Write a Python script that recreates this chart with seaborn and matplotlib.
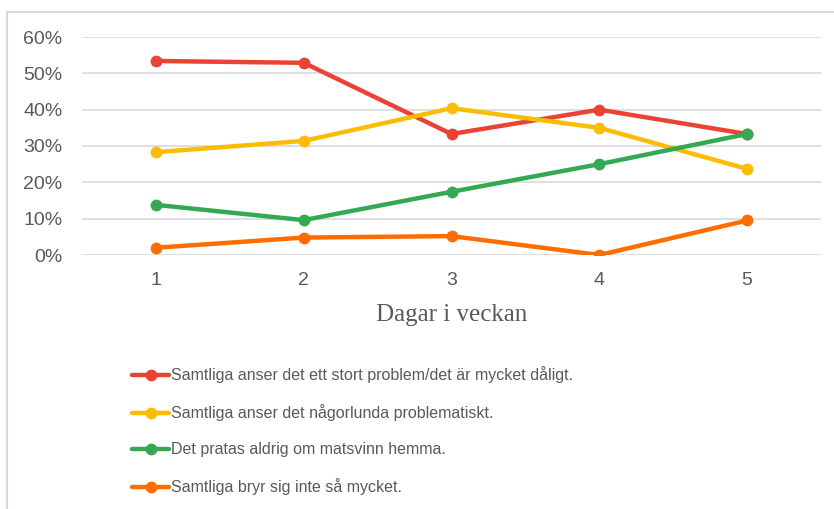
import pandas as pd
import matplotlib.pyplot as plt
import seaborn as sns
from matplotlib.patches import Rectangle
from matplotlib.ticker import PercentFormatter

# -------------------------------------------------
# Data
# -------------------------------------------------
days = [1, 2, 3, 4, 5]

stort_problem = [53.4, 52.9, 33.3, 40.0, 33.3]
nagorlunda = [28.3, 31.4, 40.4, 35.0, 23.7]
pratas_aldrig = [13.8, 9.6, 17.4, 25.0, 33.3]
bryr_sig_inte = [2.0, 4.8, 5.2, 0.0, 9.5]

series_names = [
    "Samtliga anser det ett stort problem/det är mycket dåligt.",
    "Samtliga anser det någorlunda problematiskt.",
    "Det pratas aldrig om matsvinn hemma.",
    "Samtliga bryr sig inte så mycket.",
]
colors = ["#EA4335", "#FBBC04", "#34A853", "#FF6D01"]

y_ticks = [0, 10, 20, 30, 40, 50, 60]
x_label = "Dagar i veckan"


# -------------------------------------------------
# Build long-form table
# -------------------------------------------------
wide = pd.DataFrame({
    "dag": days,
    series_names[0]: stort_problem,
    series_names[1]: nagorlunda,
    series_names[2]: pratas_aldrig,
    series_names[3]: bryr_sig_inte,
})
df = wide.melt(id_vars="dag", var_name="serie", value_name="andel")


# -------------------------------------------------
# Plot
# -------------------------------------------------
sns.set_theme(style="white")
plt.rcParams["font.family"] = ["Liberation Sans", "DejaVu Sans"]

fig = plt.figure(figsize=(8.34, 5.09), dpi=100)
ax = fig.add_axes([82 / 834, 1 - 255 / 509, 739 / 834, 218 / 509])

sns.lineplot(
    data=df,
    x="dag",
    y="andel",
    hue="serie",
    hue_order=series_names,
    palette=colors,
    marker="o",
    markersize=8.5,
    markeredgewidth=0,
    linewidth=3.2,
    ax=ax,
    legend=True,
)

ax.set_xlim(0.5, 5.5)
ax.set_ylim(0, 60)
ax.set_xticks(days)
ax.set_yticks(y_ticks)
ax.yaxis.set_major_formatter(PercentFormatter(decimals=0))
ax.grid(axis="y", color="#d9d9d9", linewidth=1.2)
ax.set_axisbelow(True)
for spine in ax.spines.values():
    spine.set_visible(False)

ax.tick_params(axis="both", length=0, labelsize=14, colors="#595959")
ax.tick_params(axis="x", pad=12)
ax.tick_params(axis="y", pad=14)

ax.set_ylabel("")
ax.set_xlabel(x_label, fontsize=18, color="#595959",
              family=["Liberation Serif", "DejaVu Serif"], labelpad=11)

handles, labels = ax.get_legend_handles_labels()
ax.get_legend().remove()
fig.legend(
    handles, labels,
    loc="upper left",
    bbox_to_anchor=(118 / 834, 1 - 352 / 509),
    frameon=False,
    fontsize=11.5,
    labelcolor="#595959",
    handlelength=2.3,
    handletextpad=0.1,
    labelspacing=1.32,
)

# light chart border (top/left visible, rest runs off the image)
fig.add_artist(Rectangle(
    (7 / 834, -0.1), 1.0, 1.1 - 12 / 509,
    transform=fig.transFigure, fill=False,
    edgecolor="#d9d9d9", linewidth=1.5,
))

fig.savefig("out.png", dpi=100)
plt.close(fig)
